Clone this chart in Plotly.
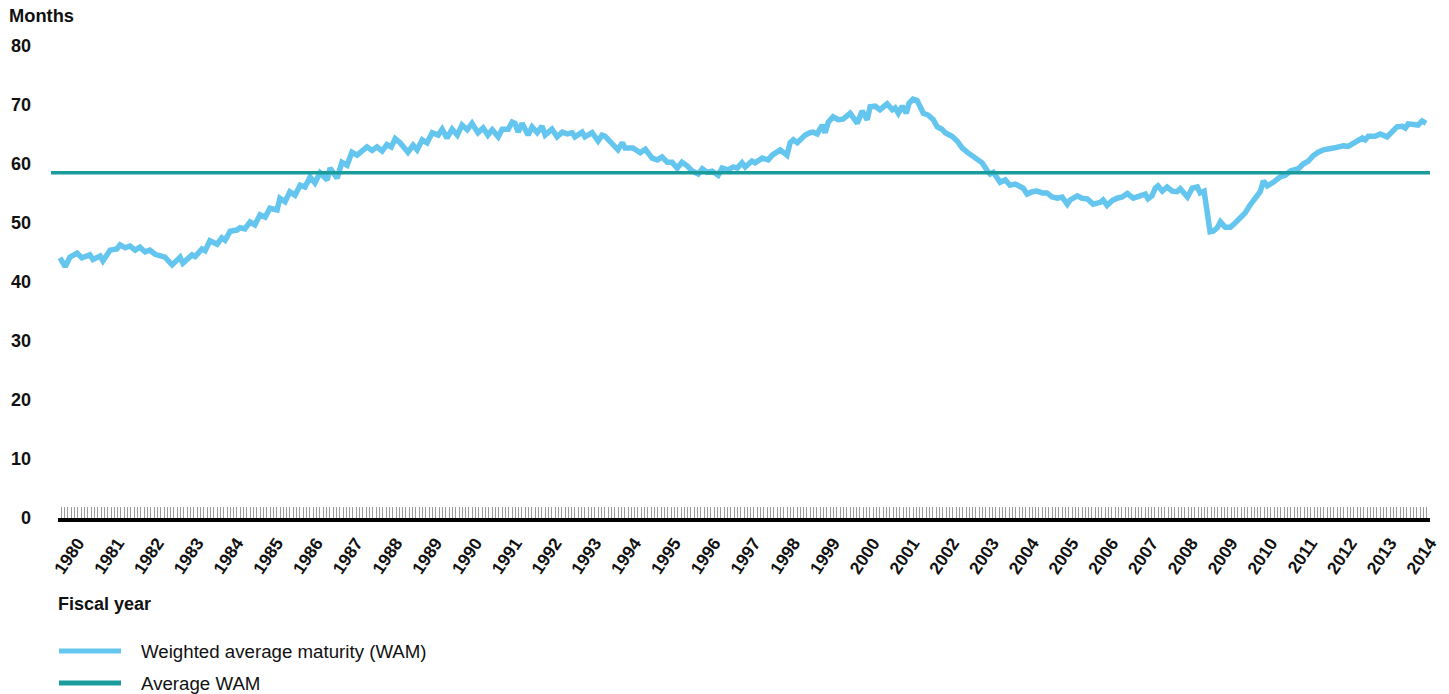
import plotly.graph_objects as go

# ---- data ----
dates = [
    1979.55, 1979.68, 1979.80, 1979.98, 1980.10, 1980.30, 1980.38, 1980.56, 1980.63, 1980.81,
    1980.98, 1981.06, 1981.19, 1981.31, 1981.44, 1981.56, 1981.69, 1981.81, 1981.94, 1982.12,
    1982.19, 1982.37, 1982.44, 1982.57, 1982.64, 1982.87, 1982.95, 1983.12, 1983.20, 1983.32,
    1983.50, 1983.62, 1983.70, 1983.83, 1984.00, 1984.08, 1984.20, 1984.33, 1984.45, 1984.58,
    1984.71, 1984.83, 1985.01, 1985.08, 1985.21, 1985.33, 1985.46, 1985.59, 1985.71, 1985.84,
    1985.96, 1986.09, 1986.27, 1986.34, 1986.52, 1986.64, 1986.77, 1986.89, 1987.02, 1987.15,
    1987.27, 1987.40, 1987.52, 1987.65, 1987.77, 1987.88, 1987.98, 1988.10, 1988.30, 1988.43,
    1988.53, 1988.66, 1988.78, 1988.91, 1989.06, 1989.16, 1989.28, 1989.41, 1989.54, 1989.66,
    1989.79, 1989.91, 1990.06, 1990.19, 1990.31, 1990.42, 1990.57, 1990.67, 1990.82, 1990.92,
    1990.99, 1991.07, 1991.17, 1991.32, 1991.42, 1991.55, 1991.67, 1991.75, 1991.92, 1992.05,
    1992.18, 1992.30, 1992.43, 1992.50, 1992.68, 1992.75, 1992.93, 1993.08, 1993.18, 1993.26,
    1993.43, 1993.58, 1993.69, 1993.76, 1993.96, 1994.14, 1994.27, 1994.44, 1994.57, 1994.69,
    1994.82, 1994.94, 1995.07, 1995.19, 1995.32, 1995.45, 1995.60, 1995.70, 1995.82, 1995.95,
    1996.10, 1996.20, 1996.35, 1996.48, 1996.58, 1996.70, 1996.78, 1996.95, 1997.03, 1997.21,
    1997.36, 1997.46, 1997.66, 1997.83, 1997.91, 1997.99, 1998.09, 1998.29, 1998.41, 1998.49,
    1998.59, 1998.72, 1998.79, 1998.87, 1998.99, 1999.12, 1999.24, 1999.42, 1999.60, 1999.72,
    1999.85, 1999.92, 2000.05, 2000.17, 2000.35, 2000.48, 2000.55, 2000.63, 2000.73, 2000.83,
    2000.90, 2001.00, 2001.10, 2001.26, 2001.38, 2001.51, 2001.61, 2001.73, 2001.81, 2001.98,
    2002.11, 2002.24, 2002.36, 2002.49, 2002.61, 2002.74, 2002.87, 2002.94, 2003.02, 2003.12,
    2003.19, 2003.32, 2003.44, 2003.57, 2003.70, 2003.77, 2003.87, 2004.00, 2004.12, 2004.25,
    2004.37, 2004.50, 2004.63, 2004.75, 2004.88, 2004.95, 2005.13, 2005.25, 2005.38, 2005.53,
    2005.71, 2005.78, 2005.88, 2006.01, 2006.13, 2006.26, 2006.39, 2006.54, 2006.71, 2006.84,
    2006.91, 2007.01, 2007.09, 2007.16, 2007.27, 2007.39, 2007.52, 2007.64, 2007.72, 2007.79,
    2007.90, 2008.02, 2008.15, 2008.22, 2008.32, 2008.47, 2008.55, 2008.65, 2008.73, 2008.85,
    2008.98, 2009.10, 2009.23, 2009.35, 2009.48, 2009.61, 2009.73, 2009.81, 2009.91, 2010.06,
    2010.23, 2010.36, 2010.49, 2010.69, 2010.81, 2010.94, 2011.06, 2011.19, 2011.32, 2011.57,
    2011.82, 2011.94, 2012.07, 2012.30, 2012.37, 2012.45, 2012.62, 2012.75, 2012.92, 2013.05,
    2013.17, 2013.30, 2013.38, 2013.45, 2013.70, 2013.80, 2013.90,
]
wam = [
    44.1, 42.6, 44.2, 44.9, 44.1, 44.6, 43.8, 44.4, 43.6, 45.4,
    45.6, 46.3, 45.8, 46.1, 45.4, 45.9, 45.1, 45.4, 44.7, 44.2,
    44.2, 42.9, 43.3, 44.2, 43.2, 44.6, 44.3, 45.6, 45.3, 47.0,
    46.4, 47.5, 47.1, 48.6, 48.8, 49.2, 49.0, 50.2, 49.7, 51.4,
    51.0, 52.5, 52.2, 54.2, 53.6, 55.3, 54.7, 56.4, 56.1, 57.8,
    56.8, 58.5, 57.3, 59.3, 57.6, 60.3, 59.8, 62.0, 61.5, 62.4,
    62.9, 62.3, 62.9, 62.2, 63.3, 62.9, 64.3, 63.6, 62.0, 63.2,
    62.4, 64.1, 63.6, 65.3, 64.9, 65.9, 64.4, 65.9, 64.9, 66.6,
    65.8, 66.9, 65.3, 66.1, 64.9, 65.8, 64.6, 65.9, 65.9, 67.1,
    66.9, 65.4, 66.9, 64.9, 66.3, 65.3, 66.4, 64.9, 65.9, 64.6,
    65.4, 65.1, 65.3, 64.6, 65.4, 64.6, 65.3, 63.9, 64.9, 64.7,
    63.6, 62.4, 63.6, 62.7, 62.7, 61.9, 62.5, 61.0, 60.7, 61.2,
    60.3, 60.3, 59.3, 60.3, 59.7, 58.8, 58.3, 59.2, 58.6, 58.8,
    58.1, 59.3, 59.0, 59.5, 59.3, 60.2, 59.5, 60.5, 60.2, 61.0,
    60.7, 61.5, 62.4, 61.5, 63.6, 64.1, 63.6, 64.9, 65.3, 65.4,
    65.1, 66.6, 65.3, 67.1, 68.0, 67.5, 67.6, 68.6, 66.9, 69.0,
    67.5, 69.7, 69.8, 69.2, 70.2, 69.2, 69.5, 68.6, 69.8, 68.6,
    70.3, 71.0, 70.8, 68.6, 68.3, 67.5, 66.3, 65.9, 65.3, 64.7,
    63.9, 62.7, 62.0, 61.4, 60.7, 60.2, 58.8, 58.3, 58.6, 57.6,
    56.9, 57.3, 56.4, 56.6, 56.3, 55.9, 54.9, 55.3, 55.4, 55.1,
    55.1, 54.4, 54.2, 54.4, 53.2, 53.9, 54.6, 54.2, 54.1, 53.2,
    53.5, 53.9, 53.0, 53.8, 54.2, 54.4, 55.0, 54.2, 54.6, 54.9,
    54.1, 54.6, 55.9, 56.3, 55.4, 56.1, 55.4, 55.3, 55.8, 55.3,
    54.4, 55.9, 56.1, 55.1, 55.4, 48.5, 48.6, 49.2, 50.2, 49.3,
    49.3, 50.0, 50.8, 51.7, 53.1, 54.4, 55.3, 57.1, 56.3, 56.9,
    57.8, 58.1, 58.8, 59.2, 60.0, 60.5, 61.4, 62.0, 62.4, 62.7,
    63.1, 63.0, 63.6, 64.4, 64.1, 64.7, 64.7, 65.1, 64.6, 65.4,
    66.3, 66.4, 66.1, 66.8, 66.6, 67.3, 66.9,
]
avg_wam = 58.5

years = list(range(1980, 2015))
year_labels = [str(y) for y in years]
y_ticks = [0, 10, 20, 30, 40, 50, 60, 70, 80]

series_names = ["Weighted average maturity (WAM)", "Average WAM"]
series_colors = ["#64C6EE", "#1B9C9C"]

# ---- layout constants (pixels) ----
W, H = 1449, 694
L, R, T, B = 58, 19, 46, 176
PW, PH = W - L - R, H - T - B
FONT = "Liberation Sans, Arial, sans-serif"


def px_x(px):
    return (px - L) / PW


def px_y(py):
    return (H - B - py) / PH


fig = go.Figure()
fig.add_trace(go.Scatter(
    x=dates, y=wam, mode="lines", name=series_names[0],
    line=dict(color=series_colors[0], width=5.5, shape="linear"),
    showlegend=False, hoverinfo="skip",
))

# average WAM horizontal line (extends slightly left of the axis as in the source)
fig.add_shape(type="line", xref="paper", yref="y",
              x0=px_x(51), x1=1.0, y0=avg_wam, y1=avg_wam,
              line=dict(color=series_colors[1], width=3.5), layer="above")

annotations = [
    dict(text="<b>Months</b>", x=px_x(7), y=px_y(16), xanchor="left", yanchor="middle",
         font=dict(size=18.3, color="#111")),
    dict(text="<b>Fiscal year</b>", x=px_x(56), y=px_y(604), xanchor="left", yanchor="middle",
         font=dict(size=18, color="#111")),
]
shapes_legend = []
for i, (nm, col) in enumerate(zip(series_names, series_colors)):
    yy = px_y(651 + 32 * i)
    shapes_legend.append(dict(type="line", xref="paper", yref="paper",
                              x0=px_x(59), x1=px_x(121), y0=yy, y1=yy,
                              line=dict(color=col, width=5)))
    annotations.append(dict(text=nm, x=px_x(139), y=yy, xanchor="left", yanchor="middle",
                            font=dict(size=18.7, color="#111")))
for s in shapes_legend:
    fig.add_shape(**s)
for a in annotations:
    a.update(xref="paper", yref="paper", showarrow=False)

fig.update_layout(
    width=W, height=H,
    margin=dict(l=L, r=R, t=T, b=B, pad=0, autoexpand=False),
    paper_bgcolor="white", plot_bgcolor="white",
    font=dict(family=FONT, color="#111"),
    showlegend=False,
    hovermode=False,
    annotations=annotations,
    xaxis=dict(
        range=[1979.5, 2014.0], automargin=False,
        tickmode="array", tickvals=years, ticktext=[f"<b>{t}</b>" for t in year_labels],
        tickangle=-56, tickfont=dict(size=17.5, color="#111"),
        ticks="inside", ticklen=11, tickwidth=1, tickcolor="#9a9a9a",
        minor=dict(ticks="inside", ticklen=11, tickwidth=1, tickcolor="#9a9a9a",
                   tick0=1979.5, dtick=1 / 12, showgrid=False),
        showline=True, linecolor="black", linewidth=4,
        showgrid=False, zeroline=False,
        ticklabelstandoff=4,
    ),
    yaxis=dict(
        range=[0, 80], automargin=False, tickmode="array", tickvals=y_ticks,
        ticktext=[f"<b>{v}</b>" for v in y_ticks],
        tickfont=dict(size=18, color="#111"),
        ticks="", showline=False, showgrid=False, zeroline=False,
        ticklabelstandoff=26,
    ),
)

fig.write_html(
    "out.html",
    config={"displayModeBar": False, "responsive": False},
    post_script="document.body.style.margin='0';document.body.style.padding='0';",
)
